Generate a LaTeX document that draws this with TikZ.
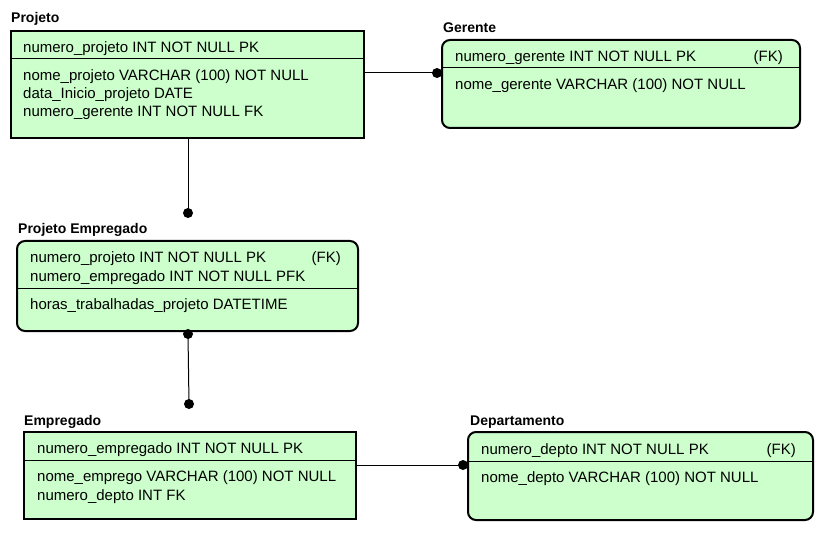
\documentclass[tikz,border=0pt]{standalone}
\usepackage{fontspec}
\setmainfont{Liberation Sans}
\begin{document}
\begin{tikzpicture}[x=1pt,y=-1pt,
  ent/.style={draw=black, line width=2pt, fill=erfill, inner sep=0pt, outer sep=0pt, anchor=north west},
  rent/.style={ent, rounded corners=8pt},
  attr/.style={anchor=base west, inner sep=0pt, font=\fontsize{15}{18}\selectfont},
  fk/.style={anchor=base east, inner sep=0pt, font=\fontsize{15}{18}\selectfont},
  ttl/.style={anchor=base west, inner sep=0pt, font=\fontsize{14}{16}\selectfont\bfseries},
  divider/.style={line width=1pt},
  conn/.style={line width=1pt},
  dot/.style={circle, fill=black, inner sep=0pt, minimum size=10pt}
]
\definecolor{erfill}{HTML}{CCFFCC}
\useasboundingbox (0,0) rectangle (825,540);
\fill[white] (0,0) rectangle (825,540);

% Projeto
\node[ent, minimum width=353pt, minimum height=107pt] (projeto) at (11,31) {};
\node[ttl] (tprojeto) at (11,23) {Projeto};
\draw[divider] (projeto.west |- 0,59) -- (projeto.east |- 0,59);
\node[attr] (p1) at (23,53) {numero\_projeto INT NOT NULL PK};
\node[attr] (p2) at (23,81) {nome\_projeto VARCHAR (100) NOT NULL};
\node[attr] (p3) at (23,99) {data\_Inicio\_projeto DATE};
\node[attr] (p4) at (23,117) {numero\_gerente INT NOT NULL FK};

% Gerente
\node[rent, minimum width=358pt, minimum height=88pt] (gerente) at (442,40) {};
\node[ttl] (tgerente) at (443,33) {Gerente};
\draw[divider] (gerente.west |- 0,68) -- (gerente.east |- 0,68);
\node[attr] (g1) at (455,62) {numero\_gerente INT NOT NULL PK};
\node[fk] (g1fk) at (783,62) {(FK)};
\node[attr] (g2) at (455,90) {nome\_gerente VARCHAR (100) NOT NULL};

% Projeto Empregado
\node[rent, minimum width=341pt, minimum height=90pt] (pe) at (17,241) {};
\node[ttl] (tpe) at (18,234) {Projeto Empregado};
\draw[divider] (pe.west |- 0,289) -- (pe.east |- 0,289);
\node[attr] (pe1) at (30,262) {numero\_projeto INT NOT NULL PK};
\node[fk] (pe1fk) at (341,262) {(FK)};
\node[attr] (pe2) at (30,281) {numero\_empregado INT NOT NULL PFK};
\node[attr] (pe3) at (30,309.5) {horas\_trabalhadas\_projeto DATETIME};

% Empregado
\node[ent, minimum width=332pt, minimum height=87pt] (emp) at (24,432) {};
\node[ttl] (temp) at (24,425) {Empregado};
\draw[divider] (emp.west |- 0,460) -- (emp.east |- 0,460);
\node[attr] (e1) at (37,453) {numero\_empregado INT NOT NULL PK};
\node[attr] (e2) at (37,481) {nome\_emprego VARCHAR (100) NOT NULL};
\node[attr] (e3) at (37,500) {numero\_depto INT FK};

% Departamento
\node[rent, minimum width=345pt, minimum height=88pt] (dept) at (468,432) {};
\node[ttl] (tdept) at (470,425.5) {Departamento};
\draw[divider] (dept.west |- 0,461) -- (dept.east |- 0,461);
\node[attr] (d1) at (481,454) {numero\_depto INT NOT NULL PK};
\node[fk] (d1fk) at (796,454) {(FK)};
\node[attr] (d2) at (481,482) {nome\_depto VARCHAR (100) NOT NULL};

% connector dots
\node[dot] (dg) at (437,73) {};
\node[dot] (dpe) at (188,213) {};
\node[dot] (dpeb) at (188,334) {};
\node[dot] (demp) at (189,404) {};
\node[dot] (ddept) at (463,465) {};

% connectors
\draw[conn] (projeto.east |- dg) -- (dg.center);
\draw[conn] (projeto.south -| dpe) -- (dpe.center);
\draw[conn] (dpeb.center) -- (demp.center);
\draw[conn] (emp.east |- ddept) -- (ddept.center);
\end{tikzpicture}
\end{document}
